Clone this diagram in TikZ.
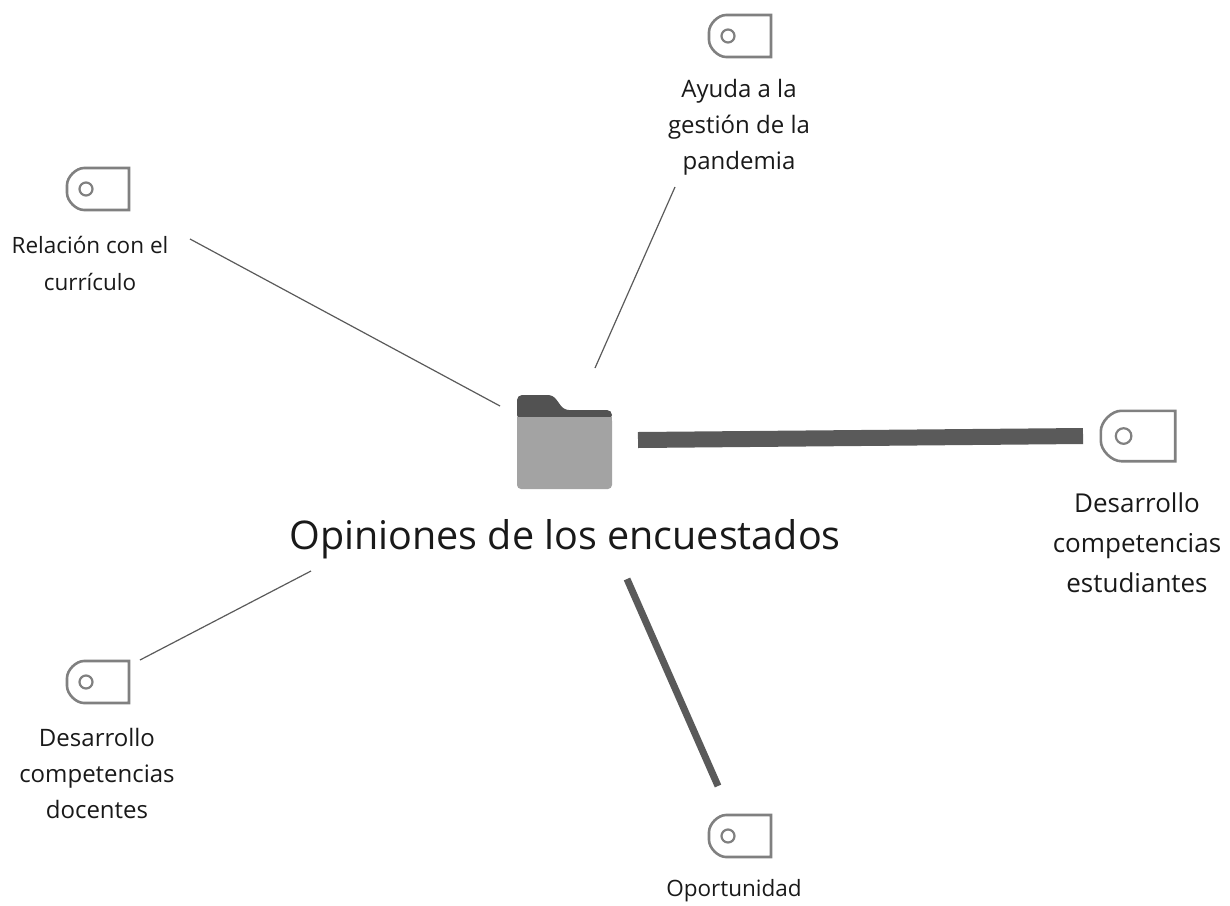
\documentclass[tikz,border=0pt]{standalone}
\usepackage{fontspec}
\setmainfont{Open Sans}
\definecolor{tagc}{HTML}{808080}
\definecolor{linec}{HTML}{5A5A5A}
\tikzset{
 lab/.style={align=center,font=\fontsize{24}{36}\selectfont,text=black!90,inner sep=0pt},
 thinl/.style={draw=linec,line width=1.2pt},
 tagicon/.pic={
  \draw[tagc,line width=2.6pt,line join=miter] (-14,-21) -- (31,-21) -- (31,21) -- (-14,21) .. controls (-22,21) and (-31,12) .. (-31,4) -- (-31,-4) .. controls (-31,-12) and (-22,-21) .. (-14,-21) -- cycle;
  \draw[tagc,line width=2.2pt] (-12,0) circle[radius=6.5];
 }
}
\begin{document}
\begin{tikzpicture}[x=1pt,y=-1pt]
\useasboundingbox (0,0) rectangle (1230,905);
\pic at (740,36) {tagicon};
\pic at (98,189) {tagicon};
\pic[scale=1.2] at (1138,436) {tagicon};
\pic at (98,682) {tagicon};
\pic at (740,836) {tagicon};
\node[lab] (a) at (739,127) {Ayuda a la\\gestión de la\\pandemia};
\node[lab,font=\fontsize{22.5}{37}\selectfont] (r) at (90,263) {Relación con el\\currículo};
\node[lab,font=\fontsize{26}{40}\selectfont] (d) at (1137,543) {Desarrollo\\competencias\\estudiantes};
\node[lab] (dd) at (97,773) {Desarrollo\\competencias\\docentes};
\node[lab,font=\fontsize{22.5}{37}\selectfont] (o) at (734,891) {Oportunidad};
\node[inner sep=0pt,font=\fontsize{39.5}{44}\selectfont,text=black!90] (main) at (565,539) {Opiniones de los encuestados};
% folder
\fill[black!68,rounded corners=5pt] (517,420) -- (517,395) -- (553,395) -- (564,410) -- (612,410) -- (612,420) -- cycle;
\fill[black!36,rounded corners=4pt] (517,417) -- (517,489) -- (612,489) -- (612,417) -- cycle;
\fill[black!36] (517,417) rectangle (612,425);
\coordinate (f1) at (500,406); \coordinate (f2) at (595,368);
\coordinate (f3) at (638,440); \coordinate (t3) at (1083,436);
\coordinate (t1) at (190,239); \coordinate (t2) at (675,187);
\coordinate (f4) at (311,571); \coordinate (t4) at (140,660);
\coordinate (f5) at (627,579); \coordinate (t5) at (718,786);
\draw[thinl] (f1) -- (t1);
\draw[thinl] (f2) -- (t2);
\draw[thinl] (f4) -- (t4);
\draw[draw=linec,line width=16pt] (f3) -- (t3);
\draw[draw=linec,line width=7pt] (f5) -- (t5);
\end{tikzpicture}
\end{document}
